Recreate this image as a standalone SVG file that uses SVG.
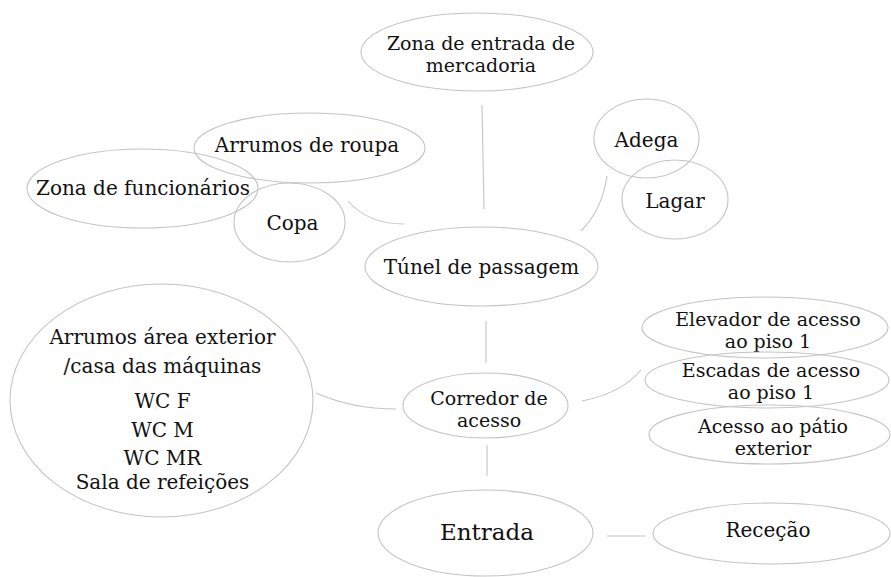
<svg xmlns="http://www.w3.org/2000/svg" width="891" height="577" viewBox="0 0 891 577">
<style>
.n{fill:none;stroke:#c4c4c4;stroke-width:1.1}
.c{fill:none;stroke:#c4c4c4;stroke-width:1.1}
text{font-family:'DejaVu Serif','Liberation Serif',serif;font-size:20px;fill:#111;text-anchor:middle}
.two{font-size:19px}
.big{font-size:23px}
</style>
<rect width="891" height="577" fill="#fff"/>
<g id="connectors">
<path class="c" d="M482,105 L484,209"/>
<path class="c" d="M348,201 Q368,224 404,224"/>
<path class="c" d="M607,176 Q602,210 581,231"/>
<path class="c" d="M486,321 L486,363"/>
<path class="c" d="M316,393 Q352,409 396,409"/>
<path class="c" d="M582,401 Q622,393 641,370"/>
<path class="c" d="M487,445 L487,476"/>
<path class="c" d="M607,536 L646,536"/>
</g>
<g id="zona-entrada">
<ellipse class="n" cx="477" cy="52" rx="116" ry="39"/>
<text class="two" x="481" y="50">Zona de entrada de</text>
<text class="two" x="481" y="72">mercadoria</text>
</g>
<g id="arrumos-roupa">
<ellipse class="n" cx="309.5" cy="148" rx="115.5" ry="35"/>
<text x="307" y="152">Arrumos de roupa</text>
</g>
<g id="zona-funcionarios">
<ellipse class="n" cx="142.5" cy="188.5" rx="115.5" ry="39.5"/>
<text x="143" y="195">Zona de funcionários</text>
</g>
<g id="copa">
<ellipse class="n" cx="289.5" cy="222.5" rx="55.5" ry="39.5"/>
<text x="292.5" y="230">Copa</text>
</g>
<g id="adega">
<ellipse class="n" cx="646.5" cy="138.5" rx="52.5" ry="39.5"/>
<text x="646.5" y="147">Adega</text>
</g>
<g id="lagar">
<ellipse class="n" cx="675" cy="199.5" rx="53" ry="39.5"/>
<text x="675" y="208">Lagar</text>
</g>
<g id="tunel">
<ellipse class="n" cx="481.5" cy="266.5" rx="116.5" ry="39.5"/>
<text x="481.5" y="274">Túnel de passagem</text>
</g>
<g id="arrumos-exterior">
<ellipse class="n" cx="161.5" cy="400.5" rx="151.5" ry="116.5"/>
<text x="162.5" y="344">Arrumos área exterior</text>
<text x="162.5" y="373">/casa das máquinas</text>
<text x="162.5" y="408">WC F</text>
<text x="162.5" y="437">WC M</text>
<text x="162.5" y="465">WC MR</text>
<text x="162.5" y="489">Sala de refeições</text>
</g>
<g id="corredor">
<ellipse class="n" cx="485.5" cy="405.5" rx="82.5" ry="32.5"/>
<text class="two" x="489" y="405">Corredor de</text>
<text class="two" x="489" y="427">acesso</text>
</g>
<g id="elevador">
<ellipse class="n" cx="765" cy="327.5" rx="123" ry="30.5"/>
<text class="two" x="768" y="326">Elevador de acesso</text>
<text class="two" x="768" y="348">ao piso 1</text>
</g>
<g id="escadas">
<ellipse class="n" cx="767" cy="380" rx="122" ry="28"/>
<text class="two" x="771" y="377">Escadas de acesso</text>
<text class="two" x="771" y="399">ao piso 1</text>
</g>
<g id="patio">
<ellipse class="n" cx="769.5" cy="434.5" rx="120.5" ry="29.5"/>
<text class="two" x="773" y="433">Acesso ao pátio</text>
<text class="two" x="773" y="455">exterior</text>
</g>
<g id="entrada">
<ellipse class="n" cx="485.5" cy="533" rx="107.5" ry="43"/>
<text class="big" x="487" y="540">Entrada</text>
</g>
<g id="rececao">
<ellipse class="n" cx="771.5" cy="533.5" rx="118.5" ry="30.5"/>
<text x="768" y="537">Receção</text>
</g>
</svg>
